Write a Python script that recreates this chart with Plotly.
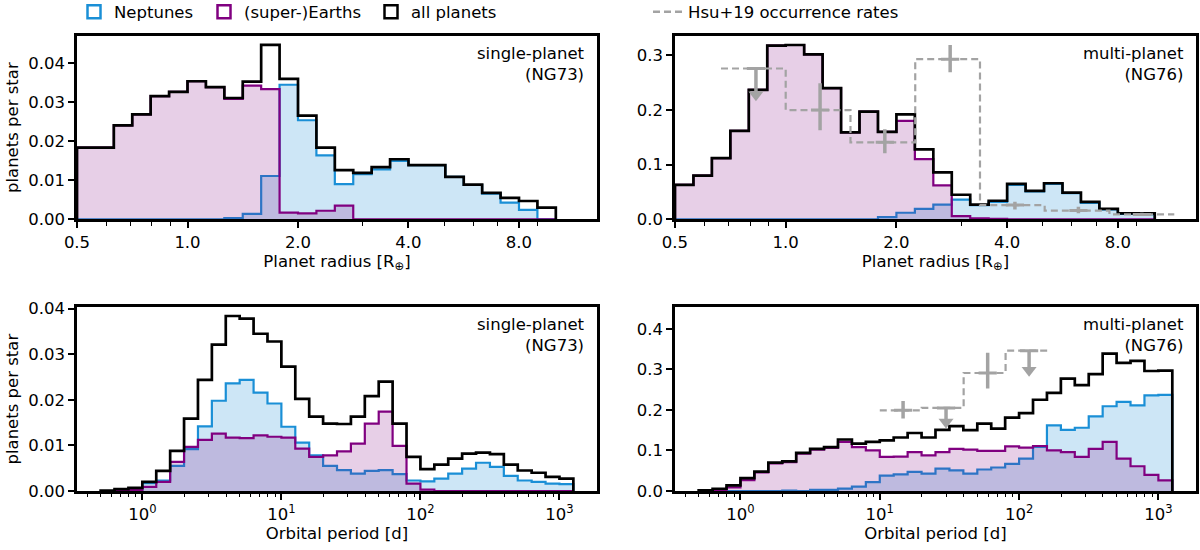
"""Planet occurrence histograms: single- vs multi-planet populations."""

import numpy as np
import plotly.graph_objects as go
from plotly.subplots import make_subplots

# ---- data -----------------------------------------------------------------
# radius histograms: 26 bins, 1/6 octave wide, starting at 0.5 R_earth
r_bins_start = 0.5
r_bins_per_octave = 6
r_nbins = 26

single_r_all = [0.0184, 0.0184, 0.0241, 0.0269, 0.0316, 0.0327, 0.0354, 0.0339,
                0.0311, 0.0353, 0.0447, 0.0360, 0.0266, 0.0184, 0.0126, 0.0119,
                0.0134, 0.0154, 0.0139, 0.0139, 0.0109, 0.0089, 0.0068, 0.0055,
                0.0047, 0.0030]
single_r_earths = [0.0184, 0.0184, 0.0241, 0.0269, 0.0316, 0.0327, 0.0354, 0.0339,
                   0.0309, 0.0343, 0.0334, 0.0017, 0.0015, 0.0022, 0.0035, 0.0,
                   0.0, 0.0, 0.0, 0.0, 0.0, 0.0, 0.0, 0.0, 0.0, 0.0]
single_r_neptunes = [0.0, 0.0, 0.0, 0.0, 0.0, 0.0, 0.0, 0.0,
                     0.0003, 0.0014, 0.0111, 0.0345, 0.0254, 0.0164, 0.0090, 0.0116,
                     0.0128, 0.0150, 0.0139, 0.0139, 0.0109, 0.0088, 0.0066, 0.0043,
                     0.0024, 0.0]

multi_r_all = [0.063, 0.080, 0.112, 0.162, 0.237, 0.318, 0.319, 0.302,
               0.240, 0.159, 0.197, 0.160, 0.192, 0.128, 0.086, 0.045,
               0.027, 0.034, 0.065, 0.052, 0.066, 0.049, 0.032, 0.019,
               0.011, 0.011]
multi_r_earths = [0.063, 0.080, 0.112, 0.162, 0.237, 0.318, 0.319, 0.302,
                  0.240, 0.159, 0.197, 0.160, 0.180, 0.110, 0.062, 0.006,
                  0.002, 0.001, 0.0, 0.0, 0.0, 0.0, 0.0, 0.0, 0.0, 0.0]
multi_r_neptunes = [0.0, 0.0, 0.0, 0.0, 0.0, 0.0, 0.0, 0.0,
                    0.0, 0.0, 0.0, 0.004, 0.012, 0.019, 0.027, 0.036,
                    0.026, 0.032, 0.063, 0.051, 0.065, 0.048, 0.030, 0.018,
                    0.010, 0.009]

# period histograms: 10 bins per decade, from 10^-0.3 to 10^3.1 days
p_first_exp = -3
p_bins_per_decade = 10
p_nbins = 34

single_p_all = [0.0001, 0.0004, 0.0007, 0.0020, 0.0044, 0.0088, 0.0159, 0.0244,
                0.0321, 0.0384, 0.0378, 0.0345, 0.0328, 0.0273, 0.0202, 0.0163,
                0.0148, 0.0147, 0.0163, 0.0208, 0.0240, 0.0148, 0.0075, 0.0048,
                0.0058, 0.0071, 0.0082, 0.0084, 0.0081, 0.0058, 0.0045, 0.0040,
                0.0031, 0.0027]
single_p_earths = [0.0, 0.0, 0.0002, 0.0009, 0.0020, 0.0064, 0.0097, 0.0112,
                   0.0126, 0.0117, 0.0116, 0.0122, 0.0119, 0.0117, 0.0093, 0.0075,
                   0.0078, 0.0087, 0.0104, 0.0148, 0.0174, 0.0099, 0.0016, 0.0003,
                   0.0, 0.0, 0.0, 0.0, 0.0, 0.0, 0.0, 0.0, 0.0, 0.0]
single_p_neptunes = [0.0, 0.0, 0.0002, 0.0017, 0.0023, 0.0055, 0.0092, 0.0142,
                     0.0198, 0.0236, 0.0244, 0.0216, 0.0192, 0.0141, 0.0106, 0.0078,
                     0.0055, 0.0046, 0.0038, 0.0044, 0.0046, 0.0037, 0.0023, 0.0021,
                     0.0027, 0.0038, 0.0049, 0.0062, 0.0053, 0.0033, 0.0023, 0.0020,
                     0.0016, 0.0015]

multi_p_all = [0.0015, 0.0056, 0.014, 0.032, 0.048, 0.070, 0.073, 0.094,
               0.104, 0.108, 0.127, 0.117, 0.121, 0.125, 0.132, 0.143,
               0.132, 0.151, 0.160, 0.150, 0.166, 0.154, 0.181, 0.192,
               0.225, 0.242, 0.277, 0.261, 0.288, 0.339, 0.316, 0.321,
               0.296, 0.297]
multi_p_earths = [0.0, 0.002, 0.009, 0.027, 0.046, 0.068, 0.071, 0.092,
                  0.102, 0.106, 0.121, 0.108, 0.100, 0.084, 0.085, 0.096,
                  0.088, 0.096, 0.104, 0.102, 0.099, 0.099, 0.110, 0.107,
                  0.111, 0.100, 0.096, 0.084, 0.104, 0.121, 0.080, 0.061,
                  0.040, 0.026]
multi_p_neptunes = [0.0, 0.0, 0.0, 0.0, 0.0, 0.0, 0.001, 0.0,
                    0.003, 0.003, 0.006, 0.011, 0.022, 0.038, 0.041, 0.047,
                    0.043, 0.055, 0.051, 0.043, 0.053, 0.058, 0.067, 0.080,
                    0.109, 0.162, 0.151, 0.156, 0.184, 0.209, 0.220, 0.211,
                    0.236, 0.237]

# Hsu+19 occurrence rates
hsu_r_edges = [0.667, 1.0, 1.5, 2.25, 3.375, 5.06, 7.59, 11.39]
hsu_r_rate = [0.276, 0.200, 0.141, 0.293, 0.026, 0.016, 0.009]
hsu_r_mid = [0.83, 1.24, 1.86, 2.80, 4.20, 6.25, 9.30]
hsu_r_up = [0.0, 0.049, 0.024, 0.026, 0.006, 0.007, 0.003]
hsu_r_down = [0.048, 0.037, 0.020, 0.024, 0.008, 0.005, 0.003]
hsu_r_uplim = [True, False, False, False, False, False, False]

hsu_p_edges = [10, 20, 40, 80, 160]
hsu_p_rate = [0.199, 0.205, 0.291, 0.346]
hsu_p_mid = [14.7, 29.9, 59.5, 118.0]
hsu_p_up = [0.023, 0.0, 0.050, 0.0]
hsu_p_down = [0.020, 0.035, 0.038, 0.048]
hsu_p_uplim = [False, True, False, True]

# ---- style ----------------------------------------------------------------
NEP = "#1a8fd6"
NEP_FILL = "rgba(26,143,214,0.22)"
EAR = "#800080"
EAR_FILL = "rgba(128,0,128,0.19)"
HSU = "#a3a3a3"
FONT = "DejaVu Sans"
FS = 16.5

r_edges = r_bins_start * 2.0 ** (np.arange(r_nbins + 1) / r_bins_per_octave)
p_edges = 10.0 ** ((p_first_exp + np.arange(p_nbins + 1)) / p_bins_per_decade)

fig = make_subplots(rows=2, cols=2)


def add_hist(edges, vals, color, width, fillcolor, row, col):
    x = [edges[0]] + list(edges)
    y = [0] + list(vals) + [0]
    fig.add_trace(
        go.Scatter(
            x=x, y=y, mode="lines",
            line=dict(color=color, width=width, shape="hv"),
            fill="tozeroy" if fillcolor else "none",
            fillcolor=fillcolor,
            showlegend=False, hoverinfo="skip",
        ),
        row=row, col=col,
    )


def add_panel(edges, nep, ear, allp, row, col):
    add_hist(edges, nep, NEP, 2.2, NEP_FILL, row, col)
    add_hist(edges, ear, EAR, 2.2, EAR_FILL, row, col)
    add_hist(edges, allp, "black", 2.7, None, row, col)


def add_hsu(edges, rate, mid, up, down, uplim, row, col):
    fig.add_trace(
        go.Scatter(
            x=list(edges), y=list(rate) + [rate[-1]], mode="lines",
            line=dict(color=HSU, width=2.2, dash="7px,4px", shape="hv"),
            showlegend=False, hoverinfo="skip",
        ),
        row=row, col=col,
    )
    fig.add_trace(
        go.Scatter(
            x=mid, y=rate, mode="markers",
            marker=dict(symbol="line-ew", size=13, line=dict(color=HSU, width=3)),
            error_y=dict(type="data", symmetric=False, array=up, arrayminus=down,
                         thickness=3.5, width=0, color=HSU),
            showlegend=False, hoverinfo="skip",
        ),
        row=row, col=col,
    )
    lx = [m for m, u in zip(mid, uplim) if u]
    ly = [r - d for r, d, u in zip(rate, down, uplim) if u]
    fig.add_trace(
        go.Scatter(
            x=lx, y=ly, mode="markers",
            marker=dict(symbol="triangle-down", size=13, color=HSU),
            showlegend=False, hoverinfo="skip",
        ),
        row=row, col=col,
    )


add_panel(r_edges, single_r_neptunes, single_r_earths, single_r_all, 1, 1)
add_panel(r_edges, multi_r_neptunes, multi_r_earths, multi_r_all, 1, 2)
add_hsu(hsu_r_edges, hsu_r_rate, hsu_r_mid, hsu_r_up, hsu_r_down, hsu_r_uplim, 1, 2)
add_panel(p_edges, single_p_neptunes, single_p_earths, single_p_all, 2, 1)
add_panel(p_edges, multi_p_neptunes, multi_p_earths, multi_p_all, 2, 2)
add_hsu(hsu_p_edges, hsu_p_rate, hsu_p_mid, hsu_p_up, hsu_p_down, hsu_p_uplim, 2, 2)

# legend-only entries, one legend box each so they can be placed like the original
legend_items = [("Neptunes", NEP, "legend"), ("(super-)Earths", EAR, "legend2"),
                ("all planets", "black", "legend3")]
for name, color, leg in legend_items:
    fig.add_trace(go.Scatter(
        x=[None], y=[None], mode="markers", name=name, legend=leg,
        marker=dict(symbol="square-open", size=13, color=color, line=dict(width=2.5, color=color)),
    ))
fig.add_trace(go.Scatter(
    x=[None], y=[None], mode="lines", name="Hsu+19 occurrence rates", legend="legend4",
    line=dict(color=HSU, width=2.5, dash="7px,4px"),
))

# ---- axes -----------------------------------------------------------------
axis_common = dict(
    showline=True, linewidth=2.5, linecolor="black", mirror=True,
    ticks="outside", ticklen=6, tickwidth=1.5, tickcolor="black",
    showgrid=False, zeroline=False, automargin=False,
    tickfont=dict(family=FONT, size=FS, color="black"),
    title_font=dict(family=FONT, size=FS, color="black"),
)

r_ticks = [0.5, 1.0, 2.0, 4.0, 8.0]
r_minor = [0.6, 0.7, 0.8, 0.9, 3, 5, 6, 7, 9]
p_ticks = [1, 10, 100, 1000]
p_minor = [m * 10.0 ** e for e in range(-1, 4) for m in range(2, 10) if 0.35 < m * 10.0 ** e < 1800]

x_dom = {1: [0.0, 0.4647], 2: [0.5344, 1.0]}
y_dom = {1: [0.5971, 1.0], 2: [0.0, 0.4037]}
y_max = {(1, 1): 0.047, (1, 2): 0.3355, (2, 1): 0.0403, (2, 2): 0.453}
y_fmt = {(1, 1): ".2f", (1, 2): ".1f", (2, 1): ".2f", (2, 2): ".1f"}
y_dtick = {(1, 1): 0.01, (1, 2): 0.1, (2, 1): 0.01, (2, 2): 0.1}

for row in (1, 2):
    for col in (1, 2):
        if row == 1:
            fig.update_xaxes(
                type="log", range=[np.log10(0.5), np.log10(13.05)],
                tickvals=r_ticks, ticktext=[f"{t:.1f}" for t in r_ticks],
                minor=dict(tickvals=r_minor, ticks="outside", ticklen=3.5, tickwidth=1.2, tickcolor="black"),
                title_text="Planet radius [R<sub>⊕</sub>]", title_standoff=4,
                domain=x_dom[col], row=row, col=col, **axis_common,
            )
        else:
            fig.update_xaxes(
                type="log", range=[-0.47, 3.27],
                tickvals=p_ticks, ticktext=["10<sup>0</sup>", "10<sup>1</sup>", "10<sup>2</sup>", "10<sup>3</sup>"],
                minor=dict(tickvals=p_minor, ticks="outside", ticklen=3.5, tickwidth=1.2, tickcolor="black"),
                title_text="Orbital period [d]", title_standoff=4,
                domain=x_dom[col], row=row, col=col, **axis_common,
            )
        fig.update_yaxes(
            range=[0, y_max[(row, col)]], dtick=y_dtick[(row, col)], tick0=0,
            tickformat=y_fmt[(row, col)],
            title_text="planets per star" if col == 1 else None, title_standoff=6,
            domain=y_dom[row], row=row, col=col, **axis_common,
        )

labels = {(1, 1): "single-planet<br>(NG73)", (1, 2): "multi-planet<br>(NG76)",
          (2, 1): "single-planet<br>(NG73)", (2, 2): "multi-planet<br>(NG76)"}
refs = {(1, 1): ("x", "y"), (1, 2): ("x2", "y2"), (2, 1): ("x3", "y3"), (2, 2): ("x4", "y4")}
for key, text in labels.items():
    xr, yr = refs[key]
    fig.add_annotation(
        text=text, xref=f"{xr} domain", yref=f"{yr} domain", x=1, y=1,
        xanchor="right", yanchor="top", align="right", xshift=-10, yshift=-6,
        showarrow=False, font=dict(family=FONT, size=FS, color="black"),
    )


def legend_box(x_px):
    return dict(orientation="h", xref="container", yref="container",
                x=x_px / 1200, y=1 - 12 / 550, xanchor="left", yanchor="middle",
                font=dict(family=FONT, size=FS), itemwidth=30, bgcolor="rgba(0,0,0,0)")


fig.update_layout(
    width=1200, height=550,
    margin=dict(l=77, r=4, t=36, b=59, pad=0, autoexpand=False),
    plot_bgcolor="white", paper_bgcolor="white",
    font=dict(family=FONT, size=FS, color="black"),
    legend=legend_box(74),
    legend2=legend_box(204),
    legend3=legend_box(371),
    legend4=legend_box(648),
)

# drop the browser's default body margin so the figure sits at the page origin
fig.write_html("out.html", config={"displayModeBar": False},
               post_script="document.body.style.margin = '0';")
